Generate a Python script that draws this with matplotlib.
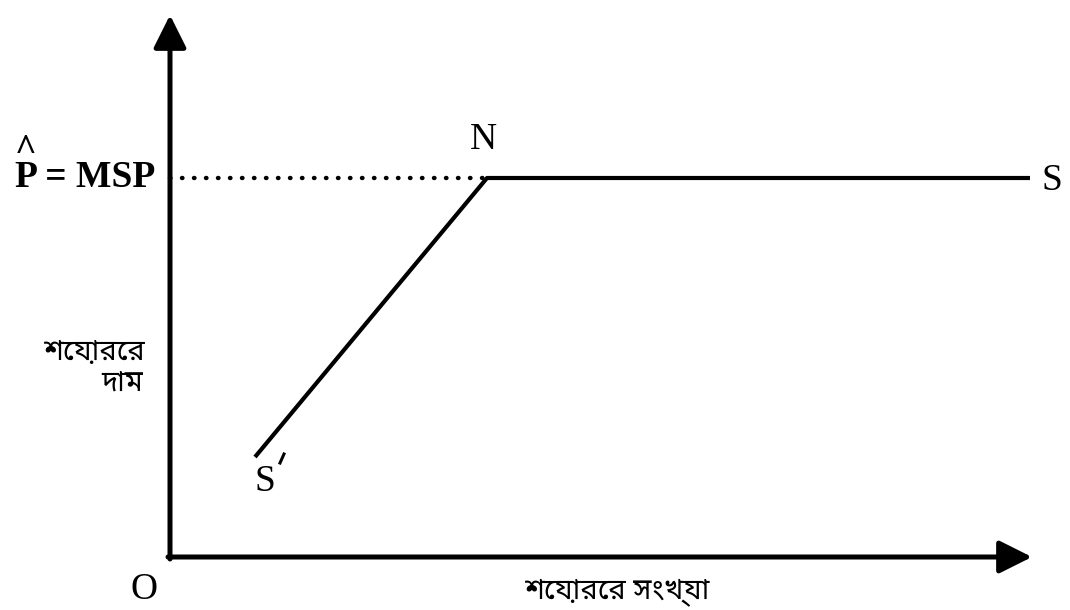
import matplotlib
matplotlib.use("Agg")
import matplotlib.pyplot as plt

# supply curve S'-N-S (quantity, price) in chart units
supply_qty = [0.85, 3.17, 8.6]
supply_price = [1.0, 3.79, 3.79]
msp = 3.79          # minimum support price
x_end = 8.62        # tip of quantity axis
y_end = 5.42        # tip of price axis

ylabel_lines = ["শেয়ারের", "দাম"]
xlabel = "শেয়ারের সংখ্যা"

serif = ["Liberation Serif", "DejaVu Serif"]
bengali = ["Noto Sans Bengali", "Noto Sans", "Lohit Bengali", "DejaVu Sans"]

fig = plt.figure(figsize=(10.7, 6.1), dpi=100)
ax = fig.add_axes([0, 0, 1, 1])
ax.set_xlim(-1.7, 9.0)
ax.set_ylim(-0.53, 5.57)
ax.axis("off")

# axes with arrow heads
arrow = dict(arrowstyle="-|>,head_length=0.4,head_width=0.2", lw=3.6,
             color="black", mutation_scale=50, shrinkA=0, shrinkB=0)
ax.annotate("", xy=(0, y_end), xytext=(0, -0.02), arrowprops=arrow)
ax.annotate("", xy=(x_end, 0), xytext=(-0.02, 0), arrowprops=arrow)

# dotted guide at MSP
ax.plot([0, supply_qty[1]], [msp, msp], color="black", lw=3.2,
        linestyle=(0, (0.1, 2.6)), dash_capstyle="round")

# supply curve
ax.plot(supply_qty, supply_price, color="black", lw=3.0, solid_capstyle="butt")

# labels
ax.text(supply_qty[1] - 0.04, msp + 0.38, "N", family=serif, fontsize=27,
        ha="center", va="center")
ax.text(supply_qty[2] + 0.22, msp - 0.03, "S", family=serif, fontsize=27,
        ha="center", va="center")
ax.text(supply_qty[0] + 0.1, supply_price[0] - 0.25, "S", family=serif, fontsize=27,
        ha="center", va="center")
ax.plot([supply_qty[0] + 0.25, supply_qty[0] + 0.29],
        [supply_price[0] - 0.06, supply_price[0] + 0.03], color="black", lw=2.2)
ax.text(-0.26, -0.33, "O", family=serif, fontsize=27, ha="center", va="center")

ax.text(-0.15, msp - 0.17, "^\nP = MSP", family=serif, fontsize=27, weight="bold",
        ha="right", va="bottom", multialignment="left", linespacing=0.7)

ax.text(-0.25, 2.05, ylabel_lines[0], family=bengali, fontsize=21,
        ha="right", va="center")
ax.text(-0.27, 1.73, ylabel_lines[1], family=bengali, fontsize=21,
        ha="right", va="center")
ax.text(4.47, -0.35, xlabel, family=bengali, fontsize=21, ha="center", va="center")

fig.savefig("out.png", dpi=100, facecolor="white")
